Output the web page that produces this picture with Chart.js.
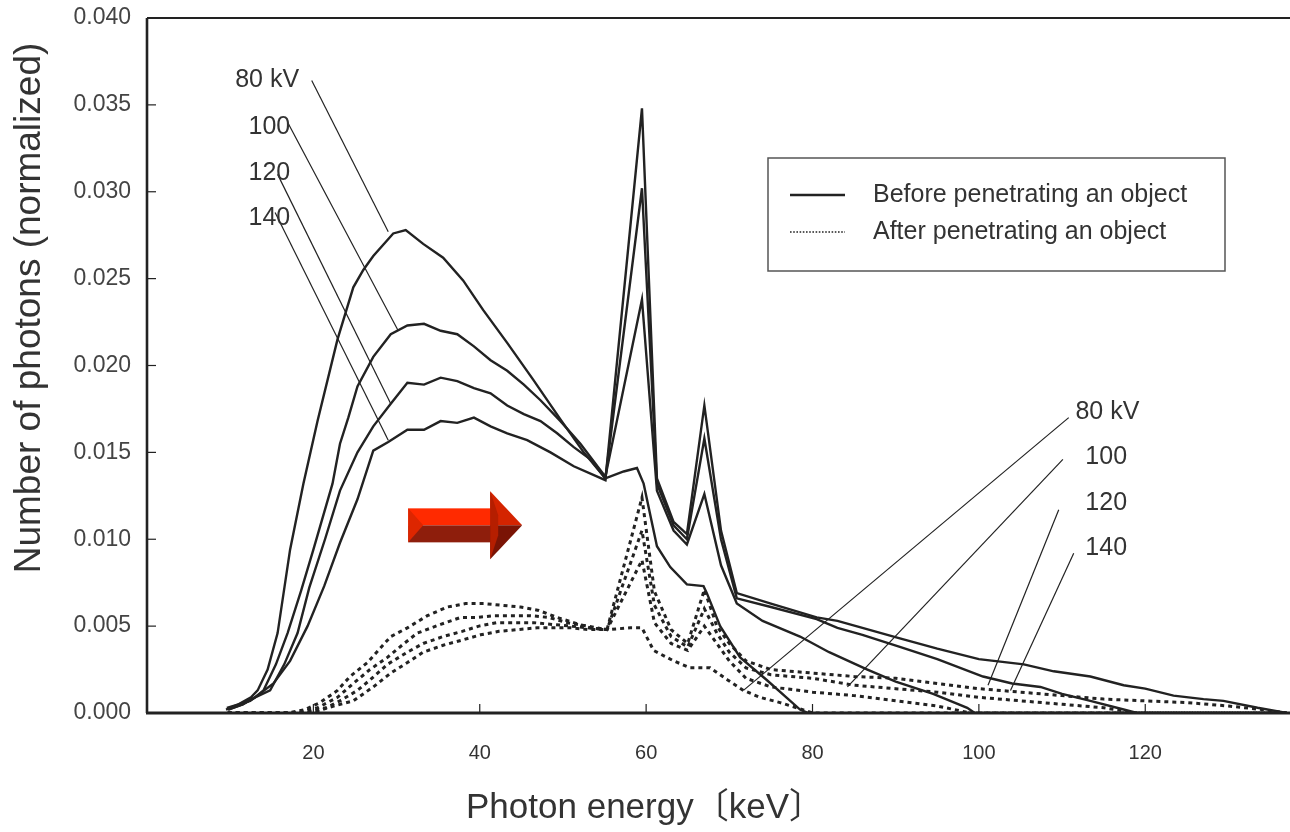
<!DOCTYPE html>
<html>
<head>
<meta charset="utf-8">
<script src="https://cdn.jsdelivr.net/npm/chart.js@4"></script>
<style>
  body { margin: 0; background: #fff; }
  canvas { display: block; }
</style>
</head>
<body>
<canvas id="spectrum" width="1290" height="832"></canvas>
<script>
// photon energy (keV) / normalized photon count, before penetrating an object
const energy80Before = [9.5, 11, 12.5, 13.3, 14.5, 15.7, 17.2, 18.8, 20.5, 22.9, 24.8, 26, 27.2, 29.6, 31.1, 33.2, 35.6, 38, 40.4, 43.3, 46.4, 49.7, 52.5, 55.1, 57.3, 58.9, 59.7, 61.3, 62.9, 64.9, 66.9, 67.3, 68.9, 71.3, 74.5, 78.5, 79.5];
const counts80Before = [0.0002, 0.0005, 0.0009, 0.0013, 0.0025, 0.0046, 0.0094, 0.0132, 0.0168, 0.0215, 0.0245, 0.0255, 0.0263, 0.0276, 0.0278, 0.0270, 0.0262, 0.0249, 0.0232, 0.0213, 0.0192, 0.0169, 0.0150, 0.0135, 0.0139, 0.0141, 0.0132, 0.0096, 0.0084, 0.0074, 0.0073, 0.0069, 0.0050, 0.0032, 0.0019, 0.0002, 0];

const energy100Before = [9.7, 11.5, 13, 14, 15.5, 16.9, 18.5, 20, 22.3, 23.2, 24.2, 25.3, 27.2, 29.3, 31.3, 33.3, 35.3, 37.3, 39.3, 41.3, 43.3, 45.3, 47.3, 49.7, 52.1, 55.1, 59.5, 61.3, 63.3, 64.9, 67, 69, 70.9, 74, 78.5, 82, 86.6, 90, 94.5, 98.6, 99.5];
const counts100Before = [0.0002, 0.0005, 0.0009, 0.0013, 0.0028, 0.0046, 0.0070, 0.0094, 0.0132, 0.0155, 0.0170, 0.0188, 0.0205, 0.0218, 0.0223, 0.0224, 0.0220, 0.0218, 0.0211, 0.0203, 0.0197, 0.0189, 0.0180, 0.0168, 0.0155, 0.0136, 0.0238, 0.0128, 0.0105, 0.0097, 0.0126, 0.0085, 0.0063, 0.0053, 0.0044, 0.0035, 0.0025, 0.0018, 0.0011, 0.0003, 0];

const energy120Before = [9.8, 11.5, 13, 14.8, 16.5, 18.1, 19.5, 21.4, 23.2, 25.3, 27.2, 29.3, 31.3, 33.3, 35.3, 37.3, 39.3, 41.3, 43.3, 45.3, 47.3, 49.3, 51.3, 53.3, 55.1, 59.5, 61.3, 63.3, 64.9, 67, 69, 70.9, 75, 80.5, 83, 86, 90.5, 95, 100.5, 104, 107.4, 110, 113.4, 117.4, 119];
const counts120Before = [0.0002, 0.0005, 0.0009, 0.0013, 0.0028, 0.0046, 0.0072, 0.0100, 0.0128, 0.0150, 0.0165, 0.0178, 0.0190, 0.0189, 0.0193, 0.0191, 0.0187, 0.0184, 0.0177, 0.0172, 0.0168, 0.0161, 0.0153, 0.0146, 0.0135, 0.0302, 0.0132, 0.0108, 0.0100, 0.0158, 0.0100, 0.0066, 0.0061, 0.0054, 0.0049, 0.0045, 0.0038, 0.0031, 0.0021, 0.0017, 0.0015, 0.0011, 0.0007, 0.0002, 0];

const energy140Before = [9.6, 12.4, 15.2, 17.2, 19.3, 21.3, 23.2, 25.3, 27.2, 29, 31.3, 33.3, 35.3, 37.3, 39.3, 41.3, 43.3, 45.7, 48.5, 51.3, 55.1, 59.5, 61.3, 63.3, 64.9, 67, 69, 70.9, 75, 80.5, 83, 86, 90.5, 95, 100, 105.4, 109, 113.4, 117.4, 120, 123.4, 127, 129.4, 133.5, 137];
const counts140Before = [0.0003, 0.0007, 0.0017, 0.0030, 0.0050, 0.0073, 0.0098, 0.0123, 0.0151, 0.0156, 0.0163, 0.0163, 0.0168, 0.0167, 0.0170, 0.0165, 0.0161, 0.0157, 0.0150, 0.0142, 0.0134, 0.0348, 0.0135, 0.0110, 0.0103, 0.0177, 0.0105, 0.0069, 0.0063, 0.0055, 0.0053, 0.0049, 0.0043, 0.0037, 0.0031, 0.0028, 0.0024, 0.0021, 0.0016, 0.0014, 0.0010, 0.0008, 0.0007, 0.0003, 0];

// after penetrating an object
const energy80After = [9.7, 17, 19, 20.8, 22.9, 24.4, 26.5, 29.3, 31.3, 33.7, 36.1, 38.3, 40.5, 42.7, 44.9, 47.1, 49.3, 51.3, 53.3, 55.3, 58.1, 59.5, 60.9, 63.3, 65.3, 67.7, 69.8, 71.7, 73.7, 76.1, 78.1, 80, 137];
const counts80After = [0, 0, 0.0002, 0.0006, 0.0013, 0.0021, 0.0029, 0.0044, 0.0049, 0.0056, 0.0061, 0.0063, 0.0063, 0.0062, 0.0061, 0.0059, 0.0055, 0.0052, 0.0049, 0.0048, 0.0049, 0.0049, 0.0036, 0.0030, 0.0026, 0.0026, 0.0019, 0.0013, 0.0009, 0.0006, 0.0003, 0, 0];

const energy100After = [9.7, 18, 20.5, 22.9, 24.8, 26.8, 28.9, 30.9, 32.5, 35.3, 37.7, 39.7, 41.7, 43.9, 46.1, 48.3, 50.5, 53, 55.3, 59.5, 61, 63, 65, 67, 68.5, 70, 72, 75, 80, 85, 90, 95, 99, 137];
const counts100After = [0, 0, 0.0003, 0.0009, 0.0017, 0.0025, 0.0032, 0.0040, 0.0046, 0.0051, 0.0055, 0.0055, 0.0056, 0.0056, 0.0056, 0.0055, 0.0052, 0.0050, 0.0048, 0.0088, 0.0052, 0.0040, 0.0036, 0.0050, 0.0040, 0.0030, 0.0020, 0.0015, 0.0012, 0.0010, 0.0007, 0.0004, 0, 0];

const energy120After = [9.7, 19, 21.5, 23.2, 25.3, 26.8, 28.9, 31.3, 33.2, 35.6, 37.9, 39.9, 42.1, 44.3, 46.5, 48.7, 51, 53, 55.3, 59.5, 61, 63, 65, 67, 68.5, 70, 72, 75, 80, 85, 90, 95, 100, 105, 110, 115, 119, 137];
const counts120After = [0, 0, 0.0003, 0.0007, 0.0013, 0.0019, 0.0028, 0.0035, 0.0040, 0.0044, 0.0047, 0.0050, 0.0052, 0.0052, 0.0052, 0.0051, 0.0050, 0.0049, 0.0048, 0.0105, 0.0062, 0.0044, 0.0038, 0.0060, 0.0046, 0.0035, 0.0026, 0.0022, 0.0020, 0.0016, 0.0014, 0.0012, 0.0009, 0.0007, 0.0005, 0.0003, 0, 0];

const energy140After = [9.7, 20, 21.7, 24.8, 27.2, 29.3, 31.3, 33.2, 35.6, 37.9, 40.1, 42.3, 44.5, 46.9, 48.9, 51, 53, 55.3, 59.5, 61, 63, 65, 67, 68.5, 70, 72, 75, 80, 85, 90, 95, 100, 105, 110, 115, 120, 125, 130, 134, 137];
const counts140After = [0, 0, 0.0003, 0.0007, 0.0015, 0.0023, 0.0029, 0.0035, 0.0039, 0.0042, 0.0045, 0.0047, 0.0048, 0.0049, 0.0049, 0.0049, 0.0048, 0.0048, 0.0124, 0.0070, 0.0048, 0.0040, 0.0071, 0.0050, 0.0040, 0.0030, 0.0025, 0.0023, 0.0021, 0.0020, 0.0017, 0.0014, 0.0012, 0.0010, 0.0008, 0.0007, 0.0006, 0.0004, 0.0002, 0];

const xTicks = [20, 40, 60, 80, 100, 120];
const yTicks = [0, 0.005, 0.01, 0.015, 0.02, 0.025, 0.03, 0.035, 0.04];

// kV labels with leader lines, in data units: label anchor, line start, line end
const kvLabels = [
  { text: "80 kV", at: [10.6, 0.0364], from: [19.8, 0.0364], to: [29.0, 0.0277] },
  { text: "100", at: [12.2, 0.0337], from: [16.9, 0.0340], to: [30.2, 0.0220] },
  { text: "120", at: [12.2, 0.0311], from: [15.7, 0.0310], to: [29.3, 0.0178] },
  { text: "140", at: [12.2, 0.0285], from: [15.4, 0.0288], to: [29.0, 0.0157] },
  { text: "80 kV", at: [111.6, 0.0173], from: [110.8, 0.0170], to: [71.7, 0.0013] },
  { text: "100", at: [112.8, 0.0147], from: [110.1, 0.0146], to: [84.2, 0.0015] },
  { text: "120", at: [112.8, 0.0121], from: [109.6, 0.0117], to: [101.1, 0.0016] },
  { text: "140", at: [112.8, 0.0095], from: [111.4, 0.0092], to: [103.8, 0.0013] },
];

const INK = "#222";
const TEXT = "#333";

function toPoints(xs, ys) {
  return xs.map((x, i) => ({ x: x, y: ys[i] }));
}

function solid(xs, ys) {
  return { data: toPoints(xs, ys), borderColor: INK, borderWidth: 2.4, pointRadius: 0, fill: false };
}

function dotted(xs, ys) {
  return { data: toPoints(xs, ys), borderColor: INK, borderWidth: 3, borderDash: [4, 4], pointRadius: 0, fill: false };
}

function drawArrow(ctx, x, y) {
  // 3D-looking red arrow
  ctx.save();
  ctx.fillStyle = "#ff2a00";
  ctx.fillRect(x, y - 17, 84, 17);
  ctx.fillStyle = "#8e1e0c";
  ctx.fillRect(x, y, 84, 17);
  ctx.fillStyle = "#dd2600";
  ctx.beginPath();
  ctx.moveTo(x, y - 17); ctx.lineTo(x + 15, y); ctx.lineTo(x, y + 17); ctx.closePath();
  ctx.fill();
  ctx.fillStyle = "#d42400";
  ctx.beginPath();
  ctx.moveTo(x + 82, y - 34); ctx.lineTo(x + 114, y); ctx.lineTo(x + 82, y); ctx.closePath();
  ctx.fill();
  ctx.fillStyle = "#7a1405";
  ctx.beginPath();
  ctx.moveTo(x + 82, y + 34); ctx.lineTo(x + 114, y); ctx.lineTo(x + 82, y); ctx.closePath();
  ctx.fill();
  ctx.fillStyle = "#b51e00";
  ctx.beginPath();
  ctx.moveTo(x + 82, y - 34); ctx.lineTo(x + 90, y - 10); ctx.lineTo(x + 90, y + 10); ctx.lineTo(x + 82, y + 34); ctx.closePath();
  ctx.fill();
  ctx.restore();
}

const decorations = {
  id: "decorations",
  afterDatasetsDraw(chart) {
    const ctx = chart.ctx;
    const xs = chart.scales.x;
    const ys = chart.scales.y;
    const area = chart.chartArea;
    ctx.save();

    // frame: top, left and bottom lines
    ctx.strokeStyle = INK;
    ctx.lineWidth = 2;
    ctx.beginPath();
    ctx.moveTo(area.left, area.top); ctx.lineTo(area.right, area.top);
    ctx.stroke();
    ctx.lineWidth = 2.6;
    ctx.beginPath();
    ctx.moveTo(area.left, area.top); ctx.lineTo(area.left, area.bottom);
    ctx.stroke();
    ctx.lineWidth = 3;
    ctx.beginPath();
    ctx.moveTo(area.left - 1, area.bottom); ctx.lineTo(area.right, area.bottom);
    ctx.stroke();

    // inward tick marks
    ctx.lineWidth = 1.2;
    yTicks.slice(1, -1).forEach((v) => {
      const py = ys.getPixelForValue(v);
      ctx.beginPath(); ctx.moveTo(area.left, py); ctx.lineTo(area.left + 9, py); ctx.stroke();
    });
    xTicks.forEach((v) => {
      const px = xs.getPixelForValue(v);
      ctx.beginPath(); ctx.moveTo(px, area.bottom); ctx.lineTo(px, area.bottom - 9); ctx.stroke();
    });

    // kV labels and leader lines
    ctx.lineWidth = 1.2;
    ctx.fillStyle = TEXT;
    ctx.font = "25px 'Liberation Sans', Arial, sans-serif";
    ctx.textBaseline = "middle";
    ctx.textAlign = "left";
    kvLabels.forEach((lab) => {
      ctx.beginPath();
      ctx.moveTo(xs.getPixelForValue(lab.from[0]), ys.getPixelForValue(lab.from[1]));
      ctx.lineTo(xs.getPixelForValue(lab.to[0]), ys.getPixelForValue(lab.to[1]));
      ctx.stroke();
      ctx.fillText(lab.text, xs.getPixelForValue(lab.at[0]), ys.getPixelForValue(lab.at[1]));
    });

    // red arrow
    drawArrow(ctx, xs.getPixelForValue(31.4), ys.getPixelForValue(0.0108));

    // legend box
    const lx = area.left + 621;
    const ly = area.top + 140;
    ctx.fillStyle = "#fff";
    ctx.fillRect(lx, ly, 457, 113);
    ctx.strokeStyle = "#555";
    ctx.lineWidth = 1.5;
    ctx.strokeRect(lx, ly, 457, 113);
    ctx.strokeStyle = INK;
    ctx.lineWidth = 2.4;
    ctx.beginPath(); ctx.moveTo(lx + 22, ly + 37); ctx.lineTo(lx + 77, ly + 37); ctx.stroke();
    ctx.lineWidth = 1.6;
    ctx.setLineDash([1.6, 1.6]);
    ctx.beginPath(); ctx.moveTo(lx + 22, ly + 74); ctx.lineTo(lx + 77, ly + 74); ctx.stroke();
    ctx.setLineDash([]);
    ctx.fillStyle = TEXT;
    ctx.font = "25px 'Liberation Sans', Arial, sans-serif";
    ctx.fillText("Before penetrating an object", lx + 105, ly + 37);
    ctx.fillText("After penetrating an object", lx + 105, ly + 74);

    // axis titles
    ctx.font = "35px 'Liberation Sans', Arial, 'Noto Sans CJK JP', sans-serif";
    ctx.textAlign = "center";
    ctx.fillText("Photon energy〔keV〕", 645, 808);
    ctx.save();
    ctx.translate(30, 308);
    ctx.rotate(-Math.PI / 2);
    ctx.font = "37px 'Liberation Sans', Arial, sans-serif";
    ctx.fillText("Number of photons (normalized)", 0, 0);
    ctx.restore();

    ctx.restore();
  },
};

const config = {
  type: "line",
  data: {
    datasets: [
      solid(energy80Before, counts80Before),
      solid(energy100Before, counts100Before),
      solid(energy120Before, counts120Before),
      solid(energy140Before, counts140Before),
      dotted(energy80After, counts80After),
      dotted(energy100After, counts100After),
      dotted(energy120After, counts120After),
      dotted(energy140After, counts140After),
    ],
  },
  options: {
    responsive: false,
    animation: false,
    devicePixelRatio: 1,
    layout: { padding: { top: 18, right: 0, left: 0, bottom: 0 } },
    plugins: { legend: false, tooltip: { enabled: false } },
    elements: { line: { tension: 0, borderCapStyle: "butt" } },
    scales: {
      x: {
        type: "linear",
        min: 0,
        max: 137.4,
        grid: { display: false, drawTicks: false },
        border: { display: false },
        afterBuildTicks: (scale) => { scale.ticks = xTicks.map((v) => ({ value: v })); },
        afterFit: (scale) => { scale.height = 119; scale.paddingLeft = 0; scale.paddingRight = 0; },
        ticks: {
          padding: 28,
          color: TEXT,
          font: { size: 20, family: "'Liberation Sans Narrow', 'Liberation Sans', Arial, sans-serif" },
          callback: (v) => String(v),
        },
      },
      y: {
        type: "linear",
        min: 0,
        max: 0.04,
        grid: { display: false, drawTicks: false },
        border: { display: false },
        afterBuildTicks: (scale) => { scale.ticks = yTicks.map((v) => ({ value: v })); },
        afterFit: (scale) => { scale.width = 147; scale.paddingTop = 0; scale.paddingBottom = 0; },
        ticks: {
          padding: 16,
          color: "#444",
          font: { size: 23, family: "'Liberation Sans', Arial, sans-serif" },
          callback: (v) => v.toFixed(3),
        },
      },
    },
  },
  plugins: [decorations],
};

new Chart(document.getElementById("spectrum"), config);
</script>
</body>
</html>
